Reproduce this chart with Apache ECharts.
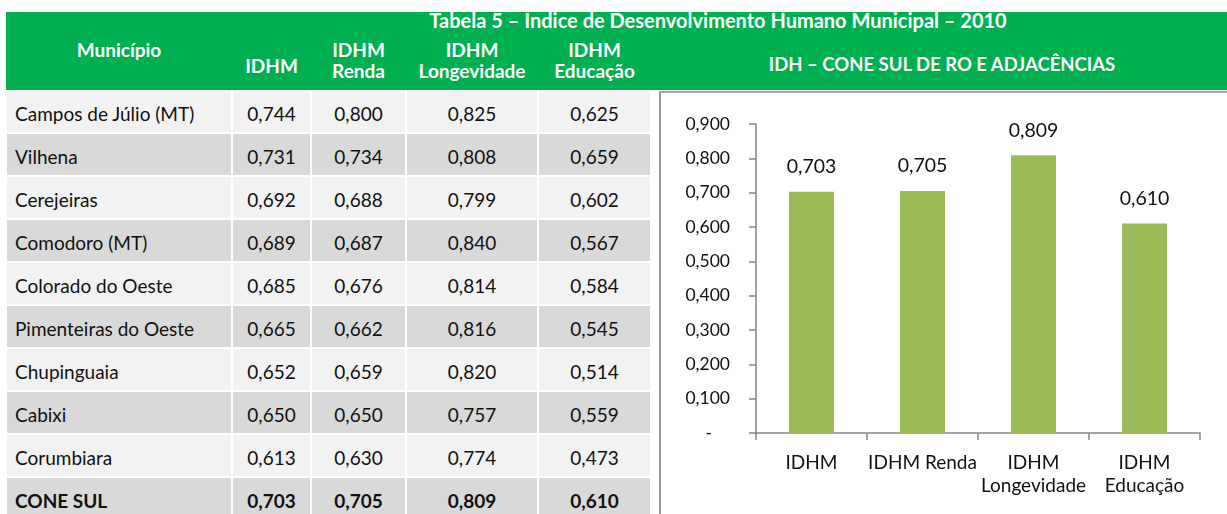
<!DOCTYPE html>
<html>
<head>
<meta charset="utf-8">
<script src="https://cdn.jsdelivr.net/npm/echarts@6/dist/echarts.min.js"></script>
<style>
  body { margin: 0; width: 1227px; height: 514px; overflow: hidden; background: #fff;
         font-family: Lato, 'Open Sans', sans-serif; color: #111; position: relative; }
  #header { position: absolute; left: 6px; top: 12px; width: 1221px; height: 78px; background: #00b050; }
  .hd { position: absolute; color: #fff; font-weight: bold; font-size: 19px; text-align: center; line-height: 21px; white-space: nowrap; }
  .cell { position: absolute; height: 41px; line-height: 45px; font-size: 19px; box-sizing: border-box; white-space: nowrap; }
  #panel { position: absolute; left: 659px; top: 91px; width: 580px; height: 440px;
           border-left: 2px solid #999; border-top: 2px solid #aaa; background: #fff; }
  #chart { position: absolute; left: 0; top: 0; width: 566px; height: 421px; }
</style>
</head>
<body>
<div id="header"></div>
<div id="table"></div>
<div id="panel"><div id="chart"></div></div>
<script>
// table data
const municipios = ['Campos de Júlio (MT)', 'Vilhena', 'Cerejeiras', 'Comodoro (MT)', 'Colorado do Oeste',
  'Pimenteiras do Oeste', 'Chupinguaia', 'Cabixi', 'Corumbiara', 'CONE SUL'];
const idhm = [0.744, 0.731, 0.692, 0.689, 0.685, 0.665, 0.652, 0.650, 0.613, 0.703];
const idhmRenda = [0.800, 0.734, 0.688, 0.687, 0.676, 0.662, 0.659, 0.650, 0.630, 0.705];
const idhmLongevidade = [0.825, 0.808, 0.799, 0.840, 0.814, 0.816, 0.820, 0.757, 0.774, 0.809];
const idhmEducacao = [0.625, 0.659, 0.602, 0.567, 0.584, 0.545, 0.514, 0.559, 0.473, 0.610];
const colHeaders = ['Município', 'IDHM', 'IDHM<br>Renda', 'IDHM<br>Longevidade', 'IDHM<br>Educação'];

// chart data
const chartCategories = ['IDHM', 'IDHM Renda', 'IDHM\nLongevidade', 'IDHM\nEducação'];
const chartValues = [0.703, 0.705, 0.809, 0.610];

const tableTitle = 'Tabela 5 – Índice de Desenvolvimento Humano Municipal – 2010';
const chartTitle = 'IDH – CONE SUL DE RO E ADJACÊNCIAS';

const fmt = v => v.toFixed(3).replace('.', ',');

// header texts, positioned by page coords (cx, cy of first line)
const header = document.getElementById('header');
function hd(html, cx, cy, w, size) {
  const d = document.createElement('div');
  d.className = 'hd';
  d.innerHTML = html;
  d.style.left = (cx - w / 2 - 6) + 'px';
  d.style.width = w + 'px';
  d.style.top = (cy - 12 - 11) + 'px';
  if (size) d.style.fontSize = size + 'px';
  header.appendChild(d);
}
const cols = [
  { x: 7, w: 224 }, { x: 233, w: 77 }, { x: 312, w: 93 }, { x: 407, w: 130 }, { x: 539, w: 111 }
];
hd(tableTitle, 718, 21, 700, 20);
hd(chartTitle, 942, 65, 500, 18.5);
hd(colHeaders[0], cols[0].x + cols[0].w / 2, 50, 200);
hd(colHeaders[1], cols[1].x + cols[1].w / 2, 66, 100);
for (let c = 2; c < 5; c++) {
  hd(colHeaders[c], cols[c].x + cols[c].w / 2, 50, 140);
}

// table body
const table = document.getElementById('table');
const columns = [municipios, idhm, idhmRenda, idhmLongevidade, idhmEducacao];
for (let r = 0; r < municipios.length; r++) {
  const top = 91 + r * 43;
  for (let c = 0; c < 5; c++) {
    const d = document.createElement('div');
    d.className = 'cell';
    d.style.left = cols[c].x + 'px';
    d.style.width = cols[c].w + 'px';
    d.style.top = top + 'px';
    d.style.background = r % 2 ? '#d9d9d9' : '#f2f2f2';
    if (c === 0) { d.style.paddingLeft = '8px'; d.textContent = columns[c][r]; }
    else { d.style.textAlign = 'center'; d.textContent = fmt(columns[c][r]); }
    if (r === municipios.length - 1) d.style.fontWeight = 'bold';
    table.appendChild(d);
  }
}

// chart
const chart = echarts.init(document.getElementById('chart'));
chart.setOption({
  animation: false,
  textStyle: { fontFamily: 'Lato, sans-serif' },
  grid: { left: 95, right: 27, top: 31, bottom: 81, containLabel: false },
  xAxis: {
    type: 'category',
    data: chartCategories,
    axisLine: { lineStyle: { color: '#868686', width: 1.5 } },
    axisTick: { show: true, length: 7, lineStyle: { color: '#868686', width: 1.5 } },
    axisLabel: { color: '#111', fontSize: 19, lineHeight: 23, margin: 18, interval: 0 }
  },
  yAxis: {
    type: 'value',
    min: 0, max: 0.9, interval: 0.1,
    splitLine: { show: false },
    axisLine: { show: true, lineStyle: { color: '#868686', width: 1.5 } },
    axisTick: { show: true, length: 7, lineStyle: { color: '#868686', width: 1.5 } },
    axisLabel: {
      color: '#111', fontSize: 17.5, margin: 26,
      formatter: v => v === 0 ? '-    ' : fmt(v)
    }
  },
  series: [{
    type: 'bar',
    data: chartValues,
    barWidth: 45,
    itemStyle: { color: '#9bbb59' },
    label: { show: true, position: 'top', distance: 15, color: '#111', fontSize: 19.5, formatter: p => fmt(p.value) }
  }]
});
</script>
</body>
</html>
